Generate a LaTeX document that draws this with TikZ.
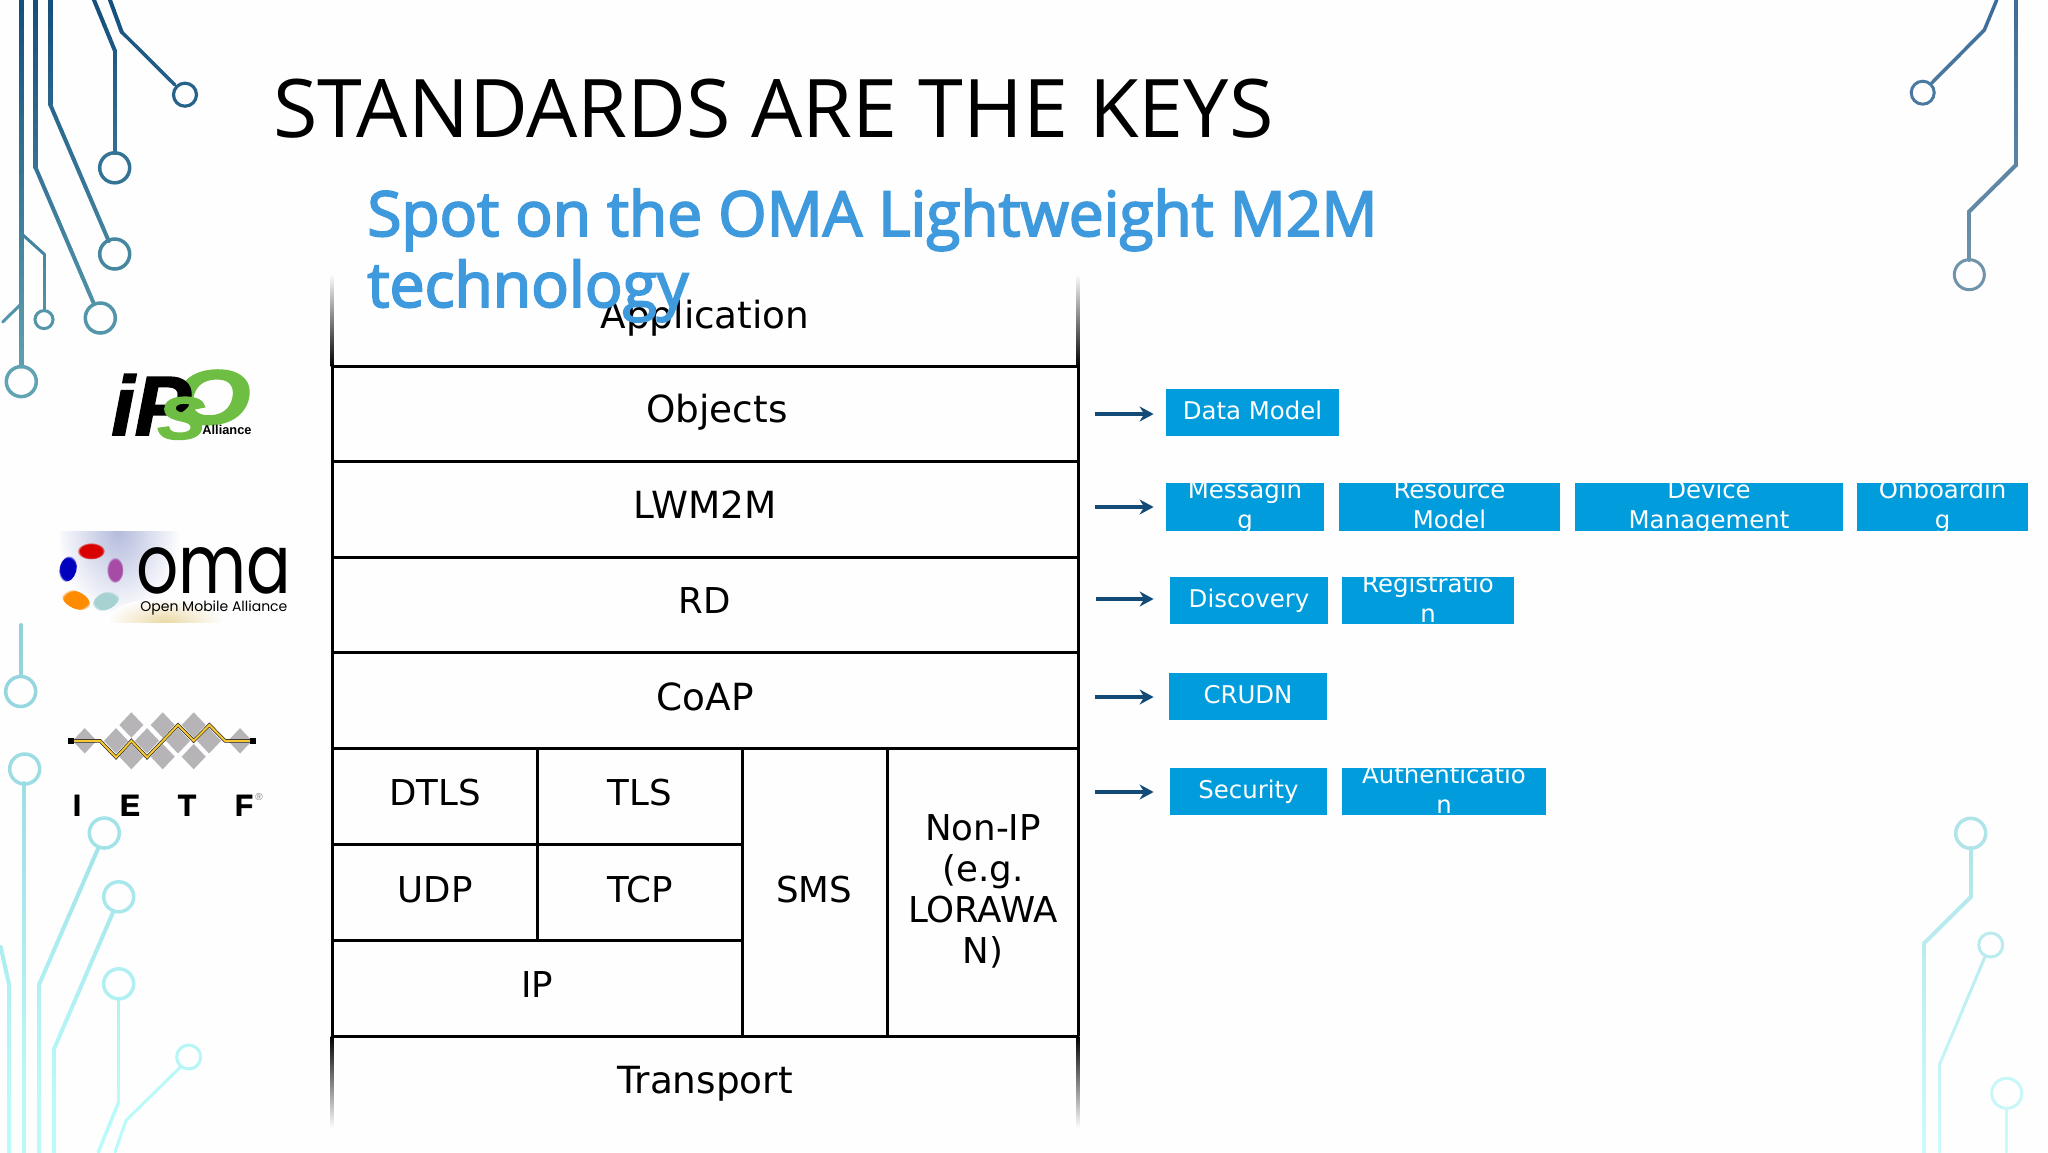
\documentclass[tikz,border=0pt]{standalone}
\usepackage{fontspec}
\usetikzlibrary{arrows.meta,calc,fadings}
\setmainfont{DejaVu Sans}
\newfontfamily\osf{Open Sans}
\newfontfamily\subf[FakeBold=3]{Open Sans}
\newfontfamily\libf{Liberation Sans}
\newfontfamily\libh[FakeBold=2]{Liberation Sans}
\newfontfamily\popf{Poppins}
\definecolor{bgwhite}{HTML}{FEFEFF}
\definecolor{ulA}{HTML}{134E7C}\definecolor{ulB}{HTML}{64A7B5}
\definecolor{llA}{HTML}{8FD0DA}\definecolor{llB}{HTML}{BAFAFA}
\definecolor{urA}{HTML}{3A6C9A}\definecolor{urB}{HTML}{7396AB}
\definecolor{lrA}{HTML}{AEE3E8}\definecolor{lrB}{HTML}{CDFBFB}
\definecolor{boxblue}{HTML}{019CDC}
\definecolor{subblue}{HTML}{3E9ADD}
\definecolor{arrowblue}{HTML}{134B78}
\definecolor{ipsogreen}{HTML}{6FBE44}
\definecolor{ietfgray}{HTML}{B6B4B6}
\definecolor{ietfyellow}{HTML}{F5C832}
\definecolor{omalav}{HTML}{B4BBDC}
\definecolor{omatan}{HTML}{EAD9A6}
\newcommand\setgrad[4]{\def\gca{#1}\def\gcb{#2}\def\gya{#3}\def\gyb{#4}}
\newcommand\gmix[1]{\pgfmathsetmacro\gp{max(0,min(100,(#1-\gya)/(\gyb-\gya)*100))}\colorlet{tc}{\gcb!\gp!\gca}}
\newcommand\gseg[5]{%
  \pgfmathtruncatemacro\nn{max(1,ceil(abs(#5-#3)/15))}%
  \foreach \i in {1,...,\nn}{%
    \pgfmathsetmacro\xa{#2+(#4-#2)/\nn*(\i-1)}%
    \pgfmathsetmacro\ya{#3+(#5-#3)/\nn*(\i-1)}%
    \pgfmathsetmacro\xb{#2+(#4-#2)/\nn*\i}%
    \pgfmathsetmacro\yb{#3+(#5-#3)/\nn*\i}%
    \pgfmathsetmacro\ym{(\ya+\yb)/2}%
    \gmix{\ym}%
    \draw[draw=tc,line width=#1*0.5pt,line cap=round] (\xa,\ya) -- (\xb,\yb);
  }}
\newcommand\gring[4]{\gmix{#2}\draw[draw=tc,line width=#4*0.5pt] (#1,#2) circle [radius=#3];}
\tikzset{
  tbltext/.style={anchor=base,inner sep=0pt,font=\fontsize{18.7}{24}\selectfont,text=black},
  tblcaps/.style={anchor=base,inner sep=0pt,font=\fontsize{17.8}{24}\selectfont,text=black},
  tblline/.style={line width=1.5pt,draw=black},
  bluebox/.style={fill=boxblue,text=white,inner sep=-6pt,align=center,font=\fontsize{12.2}{15}\selectfont},
  arr/.style={draw=arrowblue,line width=1.6pt,-{Stealth[length=7pt,width=7.5pt]}},
}
\newcommand\bbox[6]{%
  \pgfmathsetmacro\bw{(#4-#2)*0.5}\pgfmathsetmacro\bh{(#5-#3)*0.5}%
  \pgfmathsetmacro\bx{(#4+#2)/2}\pgfmathsetmacro\by{(#5+#3)/2}%
  \node[bluebox,minimum width=\bw pt,minimum height=\bh pt] (#1) at (\bx,\by) {#6};}
\begin{document}
\begin{tikzpicture}[x=0.5pt,y=-0.5pt]
\useasboundingbox (0,0) rectangle (2048,1152);
\fill[bgwhite] (0,0) rectangle (2048,1152);
% --- circuit traces, upper left
\setgrad{ulA}{ulB}{0}{400}
\gseg{5}{21.3}{0}{21.3}{366}
\gseg{3}{21.3}{233.5}{44}{254}
\gseg{3}{44}{254}{44}{310}
\gseg{3}{20}{305}{2.7}{322}
\gseg{5}{35.3}{0}{35.3}{167}
\gseg{4}{35.3}{167}{94}{304}
\gseg{5}{50}{0}{50}{104}
\gseg{4}{50}{104}{108.7}{241}
\gseg{4}{94}{0}{115}{51}
\gseg{4}{115}{51}{115}{153}
\gseg{4}{110}{0}{121.7}{32}
\gseg{3.5}{121.7}{32}{175}{85}
\gring{21.3}{381.6}{15}{3.5}
\gring{44}{319.6}{9}{3}
\gring{100.3}{318}{15}{3.5}
\gring{114.7}{254}{15}{3.5}
\gring{114.7}{167.8}{15}{3.5}
\gring{185}{94.7}{11.5}{3.2}
% --- circuit traces, lower left
\setgrad{llA}{llB}{620}{1100}
\gseg{4}{21.3}{625}{21.3}{676}
\gring{20.7}{691.5}{15}{3.5}
\gseg{4}{24}{783}{24}{1152}
\gring{24.7}{769}{15}{3.5}
\gseg{4}{98.3}{848}{39.3}{984}
\gseg{4}{39.3}{984}{39.3}{1152}
\gring{104.3}{833}{15}{3.5}
\gseg{4}{112.7}{913}{54}{1049}
\gseg{4}{54}{1049}{54}{1152}
\gring{118.7}{896.8}{15}{3.5}
\gseg{3.5}{118.7}{999}{118.7}{1102}
\gseg{3.5}{118.7}{1102}{98.3}{1152}
\gring{118.7}{983.8}{15}{3.5}
\gseg{3}{181}{1066.5}{126}{1120.4}
\gseg{3}{126}{1120.4}{115}{1152}
\gring{188.7}{1057}{12}{3}
\gseg{4}{0.7}{947}{9.3}{985.6}
\gseg{4}{9.3}{985.6}{9.3}{1152}
% --- circuit traces, upper right
\setgrad{urA}{urB}{0}{290}
\gseg{3.5}{1996.7}{0}{1984.3}{30}
\gseg{3.5}{1984.3}{30}{1931.7}{83}
\gring{1922.7}{92.7}{11.5}{3}
\gseg{4.5}{2016}{0}{2016}{165}
\gseg{4}{2016}{165}{1969}{211.7}
\gseg{4}{1969}{211.7}{1969}{260}
\gring{1969.3}{274.7}{15}{3}
% --- circuit traces, lower right
\setgrad{lrA}{lrB}{820}{1152}
\gring{1970.7}{833.3}{15}{3.5}
\gseg{4}{1971}{848}{1971}{896.7}
\gseg{4}{1971}{896.7}{1924}{943.3}
\gseg{4}{1924}{943.3}{1924}{1152}
\gring{1990.7}{945}{12}{3}
\gseg{3}{1985}{956.7}{1939.3}{1065}
\gseg{3}{1939.3}{1065}{1939.3}{1152}
\gring{2006.7}{1093.3}{15}{3}
\gseg{3}{2006.7}{1108.3}{2006.7}{1152}
% --- table
\shade[top color=bgwhite,bottom color=black] (330.5,274) rectangle (333.5,366);
\shade[top color=bgwhite,bottom color=black] (1076.5,274) rectangle (1079.5,366);
\shade[top color=black,bottom color=bgwhite] (330.5,1036) rectangle (333.5,1128);
\shade[top color=black,bottom color=bgwhite] (1076.5,1036) rectangle (1079.5,1128);
\draw[tblline] (332,366) -- (332,1036);
\draw[tblline] (1078,366) -- (1078,1036);
\foreach \yy in {366,461.5,557,652.5,748,1036}{\draw[tblline] (332,\yy) -- (1078,\yy);}
\draw[tblline] (332,844) -- (742,844);
\draw[tblline] (332,940) -- (742,940);
\draw[tblline] (537,748) -- (537,940);
\draw[tblline] (742,748) -- (742,1036);
\draw[tblline] (887,748) -- (887,1036);
\node[tbltext] (app) at (705,328) {Application};
\node[tbltext] (obj) at (717,422) {Objects};
\node[tbltext] (lwm) at (705,518.5) {LWM2M};
\node[tblcaps] (rd) at (705,613.5) {RD};
\node[tbltext] (coap) at (705,710.5) {CoAP};
\node[tblcaps] (dtls) at (435,805.5) {DTLS};
\node[tblcaps] (tls) at (640,805.5) {TLS};
\node[tblcaps] (udp) at (435,902) {UDP};
\node[tblcaps] (tcp) at (640,902) {TCP};
\node[tblcaps] (ip) at (537,997.5) {IP};
\node[tblcaps] (sms) at (814,902) {SMS};
\node[tblcaps] (non1) at (983,840) {Non-IP};
\node[tblcaps] (non2) at (983,881) {(e.g.};
\node[tblcaps] (non3) at (983,922) {LORAWA};
\node[tblcaps] (non4) at (983,963) {N)};
\node[tbltext] (trans) at (705,1093) {Transport};
% --- title
\node[anchor=base west,inner sep=0pt] (title) at (273,137) {\resizebox{500pt}{!}{\osf\fontsize{40}{48}\selectfont STANDARDS ARE THE KEYS}};
\node[anchor=base west,inner sep=0pt,text=subblue] (sub1) at (367,236) {\resizebox{505pt}{!}{\subf\fontsize{32}{38}\selectfont Spot on the OMA Lightweight M2M}};
\node[anchor=base west,inner sep=0pt,text=subblue] (sub2) at (367,307) {\resizebox{160.5pt}{!}{\subf\fontsize{32}{38}\selectfont technology}};
% --- blue boxes
\bbox{dm}{1166}{389}{1339}{436}{Data Model\vphantom{g}}
\bbox{msg}{1166}{483}{1324}{531}{Messagin\\g}
\bbox{res}{1339}{483}{1560}{531}{Resource\\Model\vphantom{g}}
\bbox{dev}{1575}{483}{1843}{531}{Device\\Management}
\bbox{onb}{1857}{483}{2028}{531}{Onboardin\\g}
\bbox{dis}{1170}{577}{1328}{624}{Discovery}
\bbox{reg}{1342}{577}{1514}{624}{Registratio\\n\vphantom{g}}
\bbox{cru}{1169}{673}{1327}{720}{CRUDN\vphantom{g}}
\bbox{sec}{1170}{768}{1327}{815}{Security}
\bbox{aut}{1342}{768}{1546}{815}{Authenticatio\\n\vphantom{g}}
% --- arrows
\coordinate (a1) at (1095,414);
\coordinate (a2) at (1095,507);
\coordinate (a3) at (1096,599);
\coordinate (a4) at (1095,697);
\coordinate (a5) at (1095,792);
\draw[arr,shorten >=6pt] (a1) -- (a1 -| dm.west);
\draw[arr,shorten >=6pt] (a2) -- (a2 -| msg.west);
\draw[arr,shorten >=8pt] (a3) -- (a3 -| dis.west);
\draw[arr,shorten >=7.5pt] (a4) -- (a4 -| cru.west);
\draw[arr,shorten >=8pt] (a5) -- (a5 -| sec.west);
% --- IPSO logo
\node[anchor=base west,inner sep=0pt,text=ipsogreen] (ipsoo) at (172,424) {\resizebox{39pt}{27pt}{\libh\bfseries\itshape\fontsize{40}{40}\selectfont O}};
\node[anchor=base west,inner sep=0pt] (ipsoip) at (111,435) {\libh\bfseries\itshape\fontsize{42}{42}\selectfont iP};
\node[anchor=base west,inner sep=0pt,text=ipsogreen] (ipsos) at (157,439) {\resizebox{24pt}{21pt}{\libh\bfseries\itshape\fontsize{40}{40}\selectfont S}};
\node[anchor=base west,inner sep=0pt] (ipsoa) at (202,434) {\libf\bfseries\fontsize{6.4}{8}\selectfont Alliance};
% --- OMA logo
\begin{scope}
\clip (60,531) rectangle (180,622);
\shade[inner color=omalav,outer color=bgwhite] (118,531) ellipse [x radius=62,y radius=85];
\end{scope}
\begin{scope}
\clip (110,590) rectangle (225,622);
\shade[inner color=omatan,outer color=bgwhite] (165,622) ellipse [x radius=58,y radius=24];
\end{scope}
\foreach \cx/\cy/\cc/\rr/\ss/\ang in {91/551/red!85!black/14/8.5/0,68/569/blue!75!black/8.5/13/-15,115/570/violet!70!white/8.5/13/0,76/600/orange!90!yellow/15/8.5/-25,106/601/teal!35!white/14/8.5/25}{
  \fill[\cc,rotate around={\ang:(\cx,\cy)},path fading=circle with fuzzy edge 20 percent] (\cx,\cy) ellipse [x radius=\rr,y radius=\ss];
}
\node[anchor=base west,inner sep=0pt] (omatext) at (136,593) {\resizebox{77.5pt}{23pt}{\popf\fontsize{40}{40}\selectfont oma}};
\node[anchor=base west,inner sep=0pt] (omasub) at (140,611) {\resizebox{73.5pt}{!}{\popf\fontsize{7}{9}\selectfont Open Mobile Alliance}};
% --- IETF logo
\begin{scope}[shift={(0,600)},x=0.1667pt,y=-0.176pt]
\foreach \dx/\dy in {254/400,348/400,441/400,534/400,627/400,720/400,394/355,488/355,581/355,394/445,488/445,581/445}{
  \fill[ietfgray] (\dx-36,\dy) -- (\dx,\dy-36) -- (\dx+36,\dy) -- (\dx,\dy+36) -- cycle;
}
\draw[black!85,line width=1.7pt] (222,400) -- (300,400) -- (348,447) -- (394,400) -- (441,447) -- (534,355) -- (581,400) -- (628,355) -- (675,400) -- (750,400);
\draw[ietfyellow,line width=1pt] (222,400) -- (300,400) -- (348,447) -- (394,400) -- (441,447) -- (534,355) -- (581,400) -- (628,355) -- (675,400) -- (750,400);
\fill[black] (205,392) rectangle (223,408);
\fill[black] (751,392) rectangle (769,408);
\end{scope}
\tikzset{ietfl/.style={anchor=base,inner sep=0pt,font=\libh\bfseries\fontsize{15}{18}\selectfont}}
\node[ietfl] (li) at (77,815.5) {I};
\node[ietfl] (le) at (130,815.5) {E};
\node[ietfl] (lt) at (187,815.5) {T};
\node[ietfl] (lf) at (244,815.5) {F};
\node[anchor=base,inner sep=0pt,text=gray,font=\libf\fontsize{5}{6}\selectfont] (lr) at (259,800) {®};
\end{tikzpicture}
\end{document}
